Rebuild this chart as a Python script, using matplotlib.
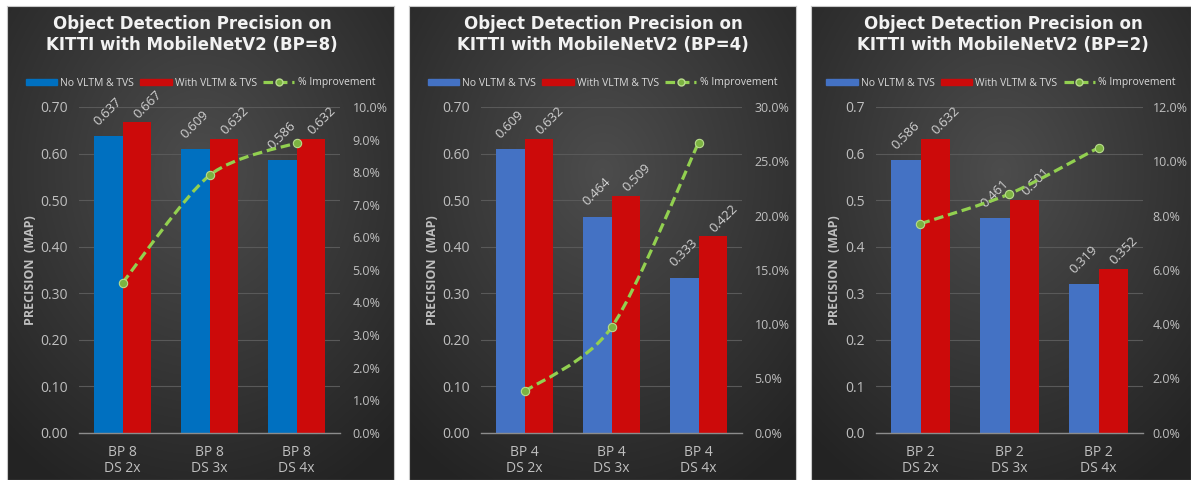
import numpy as np
import matplotlib.pyplot as plt
from matplotlib.path import Path
from matplotlib.patches import PathPatch, Patch
from matplotlib.lines import Line2D

plt.rcParams['font.family'] = ['Open Sans', 'DejaVu Sans']

# ---- data ----
titles = ['Object Detection Precision on\nKITTI with MobileNetV2 (BP=8)',
          'Object Detection Precision on\nKITTI with MobileNetV2 (BP=4)',
          'Object Detection Precision on\nKITTI with MobileNetV2 (BP=2)']
categories = [['BP 8\nDS 2x', 'BP 8\nDS 3x', 'BP 8\nDS 4x'],
              ['BP 4\nDS 2x', 'BP 4\nDS 3x', 'BP 4\nDS 4x'],
              ['BP 2\nDS 2x', 'BP 2\nDS 3x', 'BP 2\nDS 4x']]
no_vltm = [[0.637, 0.609, 0.586],
           [0.609, 0.464, 0.333],
           [0.586, 0.461, 0.319]]
with_vltm = [[0.667, 0.632, 0.632],
             [0.632, 0.509, 0.422],
             [0.632, 0.501, 0.352]]
improvement = [[4.6, 7.9, 8.9],
               [3.8, 9.7, 26.7],
               [7.7, 8.8, 10.5]]
series_names = ['No VLTM & TVS', 'With VLTM & TVS', '% Improvement']

# ---- styling / layout ----
W, H = 1191, 480
blue = ['#0070C0', '#4472C4', '#4472C4']
red = '#CC0A0A'
green = '#92D050'
txt = '#BFBFBF'
left_fmt = ['{:.2f}', '{:.2f}', '{:.1f}']
right_max = [10, 30, 12]
right_step = [1, 5, 2]
right_pad = [9, 9, 7]
panels = [(7, 394), (409, 796), (811, 1191)]
plots = [(79, 340), (481, 742), (876, 1143)]
title_x = [192, 603, 1003]
plot_top, plot_bot = 107, 432.7


def fx(px):
    return px / W


def fy(py):
    return 1 - py / H


def smooth_path(x, y):
    pts = np.column_stack([x, y]).astype(float)
    n = len(pts)
    verts, codes = [pts[0]], [Path.MOVETO]
    for i in range(n - 1):
        p0, p1 = pts[max(i - 1, 0)], pts[i]
        p2, p3 = pts[i + 1], pts[min(i + 2, n - 1)]
        verts += [p1 + (p2 - p0) / 7, p2 - (p3 - p1) / 7, p2]
        codes += [Path.CURVE4] * 3
    return Path(verts, codes)


fig = plt.figure(figsize=(W / 100, H / 100), dpi=100, facecolor='white')

# radial background gradient
gy, gx = np.mgrid[0:1:300j, 0:1:300j]
r = np.sqrt(((gx - 0.5) / 0.75) ** 2 + ((gy - 0.35) / 0.75) ** 2)
r = np.clip(r, 0, 1)
shade = 0.30 - 0.16 * r
grad = np.dstack([shade, shade, shade])

dash = (0, (3, 1.5))

for k in range(3):
    pl, pr = panels[k]
    bg = fig.add_axes([fx(pl), 0, fx(pr - pl), fy(6)])
    bg.imshow(grad, extent=[0, 1, 0, 1], aspect='auto', origin='upper')
    bg.set_xticks([])
    bg.set_yticks([])
    for s in bg.spines.values():
        s.set_color('#c8c8c8')
        s.set_linewidth(0.8)

    l, rr = plots[k]
    ax = fig.add_axes([fx(l), fy(plot_bot), fx(rr - l), fy(plot_top) - fy(plot_bot)])
    ax.patch.set_alpha(0)
    x = np.arange(len(categories[k]))
    w = 0.33
    b1 = ax.bar(x - w / 2, no_vltm[k], w, color=blue[k], zorder=2)
    b2 = ax.bar(x + w / 2, with_vltm[k], w, color=red, zorder=2)
    for bars, vals, off in ((b1, no_vltm[k], (0, 6)), (b2, with_vltm[k], (8, 1))):
        for b, v in zip(bars, vals):
            ax.annotate(f'{v:.3f}', (b.get_x() + b.get_width() / 2, v),
                        xytext=off, textcoords='offset points',
                        ha='center', va='bottom', rotation=45,
                        fontsize=9.5, color='#D0D0D0')
    ax.set_xlim(-0.5, 2.5)
    ax.set_ylim(0, 0.7)
    yt = np.arange(0, 0.71, 0.1)
    ax.set_yticks(yt)
    ax.set_yticklabels([left_fmt[k].format(v) for v in yt])
    ax.set_xticks(x)
    ax.set_xticklabels(categories[k], linespacing=1.05)
    ax.tick_params(length=0, colors=txt, labelsize=10)
    ax.tick_params(axis='y', pad=8)
    ax.tick_params(axis='x', pad=9)
    ax.grid(axis='y', color='#595959', lw=0.8, zorder=0)
    ax.set_axisbelow(True)
    for s in ('top', 'left', 'right'):
        ax.spines[s].set_visible(False)
    ax.spines['bottom'].set_color('#8C8C8C')
    ax.spines['bottom'].set_linewidth(1.0)

    ax2 = ax.twinx()
    ax2.set_ylim(0, right_max[k])
    rt = np.arange(0, right_max[k] + 0.01, right_step[k])
    ax2.set_yticks(rt)
    ax2.set_yticklabels([f'{v:.1f}%' for v in rt])
    ax2.tick_params(length=0, colors=txt, labelsize=9, pad=right_pad[k])
    for s in ax2.spines.values():
        s.set_visible(False)
    ax2.add_patch(PathPatch(smooth_path(x, improvement[k]), fill=False,
                            edgecolor=green, lw=2.3, linestyle=dash,
                            capstyle='butt', zorder=3))
    ax2.plot(x, improvement[k], 'o', ms=6, mfc='#7CB342', mec='#B8DC8C',
             mew=0.8, zorder=4)

    fig.text(fx(pl + 24), fy((plot_top + plot_bot) / 2), 'PRECISION  (MAP)',
             rotation=90, ha='center', va='center', fontsize=9,
             fontweight='bold', color=txt)
    fig.text(fx(title_x[k]), fy(15), titles[k], ha='center', va='top',
             fontsize=12, fontweight='bold', color='#F2F2F2',
             linespacing=1.25, family=['DejaVu Sans'])

    handles = [Patch(color=blue[k]), Patch(color=red),
               Line2D([], [], color=green, lw=2.3, ls=dash, marker='o', ms=5,
                      mfc='#7CB342', mec='#B8DC8C')]
    fig.legend(handles, series_names, loc='center',
               bbox_to_anchor=(fx((pl + pr) / 2), fy(83)), ncol=3,
               frameon=False, fontsize=7.5, labelcolor='#D9D9D9',
               handlelength=3.0, handleheight=0.5, handletextpad=0.3,
               columnspacing=0.6)

fig.savefig('out.png', dpi=100, facecolor='white')
